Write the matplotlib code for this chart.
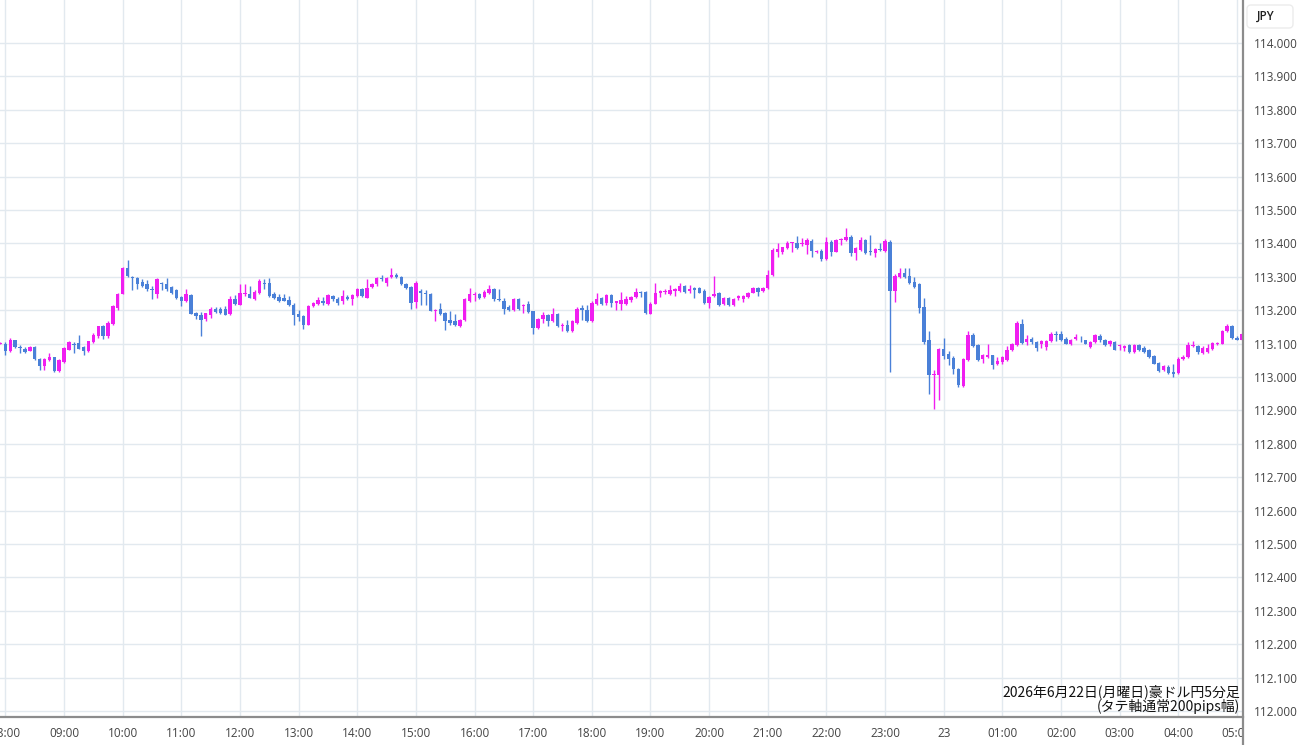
import numpy as np
import matplotlib
matplotlib.use("Agg")
from matplotlib import pyplot as plt
from matplotlib.patches import Rectangle, FancyBboxPatch
from matplotlib.lines import Line2D
from matplotlib.transforms import IdentityTransform

plt.rcParams['font.family'] = ['Noto Sans CJK JP', 'DejaVu Sans']

# AUD/JPY 5-minute bars, first bar is 07:55, then 08:00 ... 05:05 (one row per hour)
opens = [
    113.100,
    113.099, 113.077, 113.110, 113.091, 113.084, 113.079, 113.091, 113.054, 113.032, 113.050, 113.059, 113.017,
    113.045, 113.082, 113.099, 113.102, 113.089, 113.077, 113.105, 113.122, 113.152, 113.122, 113.159, 113.207,
    113.249, 113.327, 113.300, 113.295, 113.285, 113.277, 113.262, 113.249, 113.281, 113.279, 113.270, 113.260,
    113.239, 113.227, 113.245, 113.191, 113.187, 113.174, 113.185, 113.204, 113.204, 113.204, 113.189, 113.232,
    113.217, 113.247, 113.249, 113.234, 113.252, 113.282, 113.280, 113.249, 113.240, 113.235, 113.230, 113.217,
    113.189, 113.184, 113.157, 113.212, 113.219, 113.229, 113.219, 113.242, 113.234, 113.227, 113.240, 113.232,
    113.242, 113.264, 113.237, 113.270, 113.277, 113.297, 113.282, 113.299, 113.305, 113.299, 113.279, 113.269,
    113.224, 113.257, 113.252, 113.249, 113.199, 113.205, 113.192, 113.170, 113.167, 113.154, 113.172, 113.227,
    113.245, 113.247, 113.239, 113.252, 113.264, 113.234, 113.227, 113.209, 113.202, 113.234, 113.212, 113.219,
    113.197, 113.147, 113.175, 113.185, 113.167, 113.189, 113.152, 113.155, 113.137, 113.162, 113.207, 113.202,
    113.167, 113.219, 113.237, 113.222, 113.245, 113.222, 113.220, 113.220, 113.230, 113.238, 113.255, 113.255,
    113.190, 113.220, 113.252, 113.255, 113.248, 113.258, 113.257, 113.272, 113.258, 113.265, 113.265, 113.258,
    113.222, 113.242, 113.252, 113.218, 113.235, 113.215, 113.235, 113.232, 113.238, 113.252, 113.265, 113.258,
    113.265, 113.305, 113.375, 113.375, 113.385, 113.400, 113.402, 113.398, 113.395, 113.408, 113.375, 113.378,
    113.352, 113.405, 113.375, 113.410, 113.410, 113.420, 113.370, 113.380, 113.410, 113.377, 113.370, 113.382,
    113.377, 113.405, 113.257, 113.300, 113.310, 113.303, 113.283, 113.277, 113.210, 113.110, 113.005, 113.005,
    113.083, 113.070, 113.057, 113.025, 112.973, 113.050, 113.125, 113.097, 113.055, 113.060, 113.065, 113.040,
    113.045, 113.050, 113.080, 113.097, 113.160, 113.105, 113.115, 113.105, 113.098, 113.090, 113.108, 113.128,
    113.128, 113.115, 113.100, 113.115, 113.112, 113.110, 113.090, 113.105, 113.122, 113.112, 113.098, 113.105,
    113.092, 113.088, 113.095, 113.075, 113.097, 113.088, 113.080, 113.062, 113.042, 113.022, 113.030, 113.015,
    113.012, 113.055, 113.060, 113.092, 113.092, 113.072, 113.075, 113.085, 113.098, 113.100, 113.138, 113.152,
    113.118, 113.112,
]
highs = [
    113.104,
    113.105, 113.117, 113.112, 113.097, 113.089, 113.093, 113.093, 113.056, 113.057, 113.071, 113.061, 113.053,
    113.089, 113.107, 113.105, 113.125, 113.092, 113.109, 113.131, 113.154, 113.155, 113.167, 113.217, 113.252,
    113.329, 113.349, 113.302, 113.299, 113.292, 113.289, 113.272, 113.295, 113.283, 113.295, 113.273, 113.262,
    113.242, 113.262, 113.247, 113.195, 113.195, 113.192, 113.210, 113.210, 113.209, 113.212, 113.242, 113.245,
    113.279, 113.279, 113.272, 113.259, 113.292, 113.292, 113.297, 113.255, 113.249, 113.247, 113.242, 113.222,
    113.202, 113.187, 113.217, 113.225, 113.239, 113.239, 113.249, 113.245, 113.239, 113.260, 113.245, 113.247,
    113.267, 113.267, 113.294, 113.282, 113.299, 113.305, 113.299, 113.327, 113.312, 113.301, 113.282, 113.272,
    113.287, 113.262, 113.259, 113.251, 113.205, 113.222, 113.195, 113.199, 113.189, 113.174, 113.237, 113.267,
    113.255, 113.252, 113.259, 113.275, 113.267, 113.262, 113.237, 113.217, 113.237, 113.237, 113.219, 113.227,
    113.199, 113.177, 113.195, 113.189, 113.207, 113.192, 113.162, 113.172, 113.170, 113.209, 113.217, 113.217,
    113.227, 113.252, 113.239, 113.249, 113.247, 113.229, 113.255, 113.242, 113.242, 113.265, 113.258, 113.257,
    113.225, 113.282, 113.260, 113.262, 113.275, 113.265, 113.282, 113.275, 113.275, 113.268, 113.270, 113.262,
    113.242, 113.302, 113.255, 113.238, 113.238, 113.235, 113.245, 113.245, 113.255, 113.268, 113.270, 113.268,
    113.320, 113.385, 113.400, 113.390, 113.408, 113.405, 113.422, 113.415, 113.415, 113.412, 113.380, 113.382,
    113.420, 113.410, 113.413, 113.417, 113.445, 113.425, 113.390, 113.420, 113.413, 113.425, 113.387, 113.400,
    113.413, 113.410, 113.307, 113.327, 113.325, 113.325, 113.300, 113.280, 113.235, 113.137, 113.020, 113.087,
    113.117, 113.077, 113.063, 113.027, 113.057, 113.137, 113.133, 113.100, 113.070, 113.100, 113.067, 113.060,
    113.063, 113.093, 113.103, 113.167, 113.173, 113.125, 113.120, 113.108, 113.112, 113.112, 113.134, 113.138,
    113.138, 113.120, 113.115, 113.128, 113.122, 113.112, 113.108, 113.128, 113.130, 113.115, 113.110, 113.108,
    113.100, 113.095, 113.098, 113.098, 113.100, 113.092, 113.085, 113.065, 113.045, 113.035, 113.035, 113.040,
    113.060, 113.065, 113.105, 113.108, 113.097, 113.092, 113.098, 113.105, 113.105, 113.142, 113.160, 113.155,
    113.122, 113.132,
]
lows = [
    113.098,
    113.067, 113.075, 113.087, 113.072, 113.071, 113.077, 113.051, 113.022, 113.022, 113.047, 113.016, 113.015,
    113.043, 113.080, 113.072, 113.083, 113.067, 113.075, 113.102, 113.117, 113.115, 113.117, 113.157, 113.200,
    113.247, 113.299, 113.259, 113.263, 113.269, 113.257, 113.234, 113.235, 113.259, 113.257, 113.249, 113.233,
    113.212, 113.225, 113.188, 113.175, 113.122, 113.169, 113.177, 113.192, 113.189, 113.185, 113.187, 113.217,
    113.215, 113.242, 113.235, 113.230, 113.249, 113.262, 113.239, 113.234, 113.225, 113.227, 113.212, 113.155,
    113.167, 113.145, 113.155, 113.210, 113.217, 113.217, 113.217, 113.227, 113.217, 113.219, 113.230, 113.217,
    113.239, 113.240, 113.235, 113.267, 113.272, 113.287, 113.272, 113.295, 113.295, 113.275, 113.262, 113.205,
    113.207, 113.217, 113.215, 113.197, 113.167, 113.187, 113.142, 113.157, 113.152, 113.149, 113.169, 113.225,
    113.227, 113.232, 113.237, 113.247, 113.229, 113.227, 113.189, 113.199, 113.199, 113.202, 113.192, 113.192,
    113.129, 113.145, 113.162, 113.152, 113.165, 113.149, 113.139, 113.135, 113.135, 113.159, 113.172, 113.164,
    113.165, 113.215, 113.215, 113.217, 113.209, 113.202, 113.202, 113.215, 113.225, 113.235, 113.238, 113.190,
    113.188, 113.218, 113.238, 113.248, 113.245, 113.242, 113.255, 113.252, 113.252, 113.235, 113.250, 113.220,
    113.208, 113.238, 113.212, 113.215, 113.212, 113.212, 113.230, 113.225, 113.235, 113.250, 113.242, 113.255,
    113.262, 113.302, 113.358, 113.368, 113.382, 113.375, 113.382, 113.392, 113.368, 113.358, 113.372, 113.348,
    113.350, 113.363, 113.373, 113.395, 113.407, 113.363, 113.350, 113.377, 113.367, 113.365, 113.360, 113.377,
    113.373, 113.015, 113.225, 113.297, 113.295, 113.277, 113.265, 113.193, 113.100, 112.950, 112.905, 112.930,
    113.055, 113.035, 113.010, 112.970, 112.970, 113.047, 113.090, 113.047, 113.043, 113.057, 113.023, 113.037,
    113.040, 113.047, 113.077, 113.093, 113.100, 113.097, 113.100, 113.078, 113.088, 113.082, 113.105, 113.108,
    113.108, 113.098, 113.095, 113.112, 113.105, 113.098, 113.088, 113.102, 113.105, 113.092, 113.092, 113.080,
    113.082, 113.078, 113.072, 113.072, 113.078, 113.072, 113.058, 113.038, 113.015, 113.018, 113.010, 113.000,
    113.010, 113.052, 113.058, 113.090, 113.070, 113.068, 113.072, 113.082, 113.096, 113.098, 113.135, 113.115,
    113.110, 113.110,
]
closes = [
    113.102,
    113.077, 113.112, 113.089, 113.087, 113.074, 113.091, 113.053, 113.032, 113.055, 113.059, 113.017, 113.051,
    113.087, 113.104, 113.095, 113.085, 113.079, 113.107, 113.125, 113.152, 113.122, 113.162, 113.212, 113.249,
    113.327, 113.302, 113.295, 113.277, 113.272, 113.262, 113.259, 113.292, 113.277, 113.262, 113.252, 113.235,
    113.227, 113.247, 113.190, 113.182, 113.172, 113.192, 113.204, 113.195, 113.192, 113.187, 113.232, 113.219,
    113.250, 113.250, 113.237, 113.254, 113.287, 113.279, 113.242, 113.237, 113.229, 113.229, 113.215, 113.187,
    113.181, 113.157, 113.212, 113.222, 113.230, 113.222, 113.244, 113.232, 113.222, 113.242, 113.232, 113.245,
    113.262, 113.242, 113.267, 113.279, 113.295, 113.292, 113.297, 113.305, 113.300, 113.279, 113.265, 113.222,
    113.282, 113.252, 113.249, 113.197, 113.202, 113.189, 113.167, 113.162, 113.155, 113.172, 113.234, 113.249,
    113.249, 113.235, 113.255, 113.264, 113.232, 113.230, 113.205, 113.202, 113.234, 113.205, 113.217, 113.195,
    113.147, 113.174, 113.187, 113.167, 113.189, 113.152, 113.155, 113.137, 113.167, 113.205, 113.202, 113.167,
    113.222, 113.232, 113.219, 113.245, 113.222, 113.227, 113.230, 113.232, 113.238, 113.255, 113.252, 113.192,
    113.220, 113.250, 113.257, 113.258, 113.260, 113.262, 113.272, 113.255, 113.262, 113.260, 113.252, 113.222,
    113.238, 113.248, 113.215, 113.235, 113.215, 113.232, 113.242, 113.242, 113.252, 113.265, 113.255, 113.265,
    113.305, 113.380, 113.382, 113.388, 113.402, 113.403, 113.385, 113.402, 113.410, 113.378, 113.378, 113.352,
    113.403, 113.375, 113.410, 113.413, 113.420, 113.370, 113.387, 113.410, 113.370, 113.373, 113.383, 113.379,
    113.407, 113.257, 113.303, 113.310, 113.300, 113.280, 113.270, 113.207, 113.105, 113.005, 113.010, 113.083,
    113.063, 113.053, 113.023, 112.975, 113.053, 113.125, 113.093, 113.050, 113.065, 113.065, 113.037, 113.047,
    113.060, 113.080, 113.100, 113.163, 113.103, 113.115, 113.105, 113.088, 113.108, 113.108, 113.130, 113.125,
    113.112, 113.100, 113.112, 113.120, 113.110, 113.100, 113.105, 113.125, 113.110, 113.095, 113.108, 113.082,
    113.095, 113.092, 113.075, 113.095, 113.082, 113.075, 113.060, 113.040, 113.018, 113.032, 113.012, 113.010,
    113.055, 113.060, 113.095, 113.097, 113.075, 113.088, 113.088, 113.102, 113.102, 113.138, 113.152, 113.118,
    113.112, 113.128,
]

hour_labels = ["08:00", "09:00", "10:00", "11:00", "12:00", "13:00", "14:00", "15:00",
               "16:00", "17:00", "18:00", "19:00", "20:00", "21:00", "22:00", "23:00",
               "23", "01:00", "02:00", "03:00", "04:00", "05:00"]
price_ticks = [round(112.0 + 0.1 * k, 1) for k in range(21)]

title_text = "2026年6月22日(月曜日)豪ドル円5分足\n(タテ軸通常200pips幅)"

up_color = '#f01ef0'
down_color = '#4a80d8'

W, H = 1300, 745
axis_x = 1243
axis_y = 717

fig = plt.figure(figsize=(W / 100, H / 100), dpi=100)
ax = fig.add_axes([0, (H - axis_y) / H, axis_x / W, axis_y / H])

o = np.array(opens)
h = np.array(highs)
l = np.array(lows)
c = np.array(closes)
x = np.arange(len(o)) - 1  # first bar is 07:55
up = c >= o
colors = np.where(up, up_color, down_color)

# wicks
ax.vlines(x, l, h, colors=colors, linewidth=1.0, zorder=3)
# bodies
bottom = np.minimum(o, c)
height = np.maximum(np.abs(c - o), 0.0018)
ax.bar(x, height, bottom=bottom, width=0.7, color=colors, linewidth=0, zorder=4)

ax.set_xlim(-1.1, 253.25)
ax.set_ylim(111.982, 114.1287)

ax.set_xticks(np.arange(len(hour_labels)) * 12)
ax.set_xticklabels(hour_labels)
ax.set_yticks(price_ticks)
ax.set_yticklabels(["%.3f" % p for p in price_ticks])
ax.yaxis.tick_right()

ax.tick_params(axis='x', length=0, pad=7, labelsize=8.5, labelcolor='#444444')
ax.tick_params(axis='y', length=0, pad=8, labelsize=8.5, labelcolor='#444444')
for t in ax.get_xticklabels() + ax.get_yticklabels():
    t.set_family(['Open Sans', 'DejaVu Sans'])
ax.grid(True, color='#e2e9ef', linewidth=1.0, zorder=0)
ax.set_axisbelow(True)
for s in ax.spines.values():
    s.set_visible(False)

ax.text(0.9975, 0.004, title_text, transform=ax.transAxes, ha='right', va='bottom',
        multialignment='right', fontsize=10, color='#111111', linespacing=1.0, zorder=6)

# hide the part of the last hour label that runs under the price scale
fig.add_artist(Rectangle((axis_x + 1, 0), W - axis_x, H - axis_y, transform=IdentityTransform(),
                         facecolor='white', edgecolor='none', zorder=5))
# axis lines
fig.add_artist(Line2D([0, axis_x], [H - axis_y, H - axis_y], transform=IdentityTransform(),
                      color='#8c8c8c', linewidth=1.6, zorder=6))
fig.add_artist(Line2D([axis_x, axis_x], [0, H], transform=IdentityTransform(),
                      color='#8c8c8c', linewidth=1.6, zorder=6))

# currency box
fig.add_artist(FancyBboxPatch((1247, H - 28), 46, 23, boxstyle="round,pad=0,rounding_size=4",
                              transform=IdentityTransform(), facecolor='white',
                              edgecolor='#ececec', linewidth=1.0, zorder=6))
fig.text(1266 / W, (H - 16.5) / H, "JPY", ha='center', va='center', fontsize=8.5,
         family=['Open Sans', 'DejaVu Sans'], color='#222222', fontweight='semibold', zorder=7)

plt.savefig('out.png', dpi=100)
